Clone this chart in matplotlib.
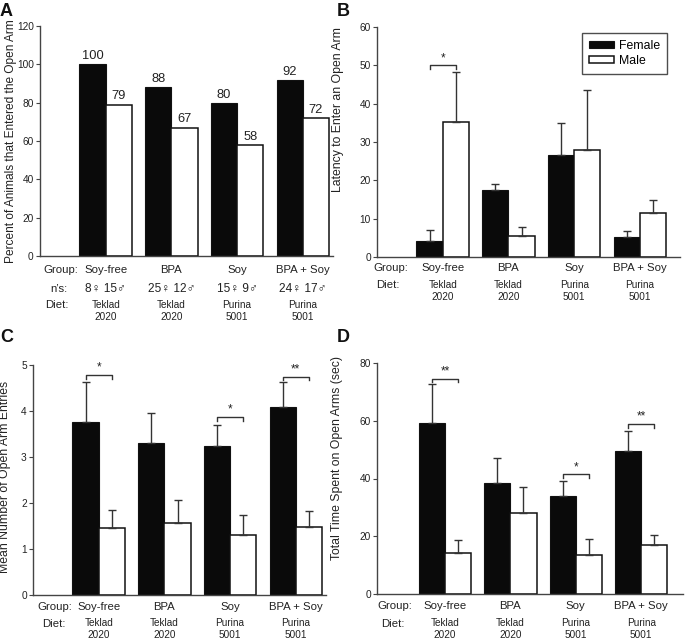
import matplotlib.pyplot as plt
import numpy as np

plt.rcParams['font.family'] = ['Liberation Sans', 'DejaVu Sans']

W, H = 686, 643
INK = '#222222'
AXC = '#444444'

groups = ['Soy-free', 'BPA', 'Soy', 'BPA + Soy']
diets = ['Teklad\n2020', 'Teklad\n2020', 'Purina\n5001', 'Purina\n5001']
n_female = [8, 25, 15, 24]
n_male = [15, 12, 9, 17]

# A — percent of animals that entered the open arm
pct_female = [100, 88, 80, 92]
pct_male = [79, 67, 58, 72]

# B — latency to enter an open arm (mean, SEM)
lat_female = [4.3, 17.6, 26.6, 5.1]
lat_female_se = [2.7, 1.5, 8.4, 1.8]
lat_male = [35.1, 5.5, 27.8, 11.4]
lat_male_se = [13.1, 2.3, 15.7, 3.4]
lat_sig = [(0, 50.0, '*')]

# C — mean number of open arm entries
ent_female = [3.76, 3.31, 3.23, 4.09]
ent_female_se = [0.86, 0.65, 0.47, 0.53]
ent_male = [1.46, 1.57, 1.30, 1.47]
ent_male_se = [0.39, 0.50, 0.45, 0.35]
ent_sig = [(0, 4.78, '*'), (2, 3.87, '*'), (3, 4.75, '**')]

# D — total time spent on open arms (sec)
time_female = [59.2, 38.6, 34.1, 49.6]
time_female_se = [13.5, 8.4, 4.9, 6.9]
time_male = [14.1, 28.0, 13.4, 16.8]
time_male_se = [4.5, 8.9, 5.7, 3.8]
time_sig = [(0, 74.6, '**'), (2, 41.4, '*'), (3, 58.9, '**')]


def px_axes(fig, l, t, r, b):
    return fig.add_axes([l / W, 1 - b / H, (r - l) / W, (b - t) / H])


def base_axes(ax, ymax, ystep, xlim, ylabel, lab_xy, lab_size=8.8):
    ax.set_xlim(*xlim)
    ax.set_ylim(0, ymax)
    ax.set_yticks(np.arange(0, ymax + ystep / 2, ystep))
    for s in ('top', 'right'):
        ax.spines[s].set_visible(False)
    for s in ('left', 'bottom'):
        ax.spines[s].set_color(AXC)
        ax.spines[s].set_linewidth(1.0)
    ax.tick_params(axis='x', length=0, labelbottom=False)
    ax.tick_params(axis='y', length=3, width=0.8, color=AXC, labelsize=7.3,
                   labelcolor=INK, pad=1.5)
    ax.set_ylabel(ylabel, fontsize=lab_size, color=INK)
    ax.yaxis.set_label_coords(*lab_xy)


def bars(ax, fem, mal, fem_se=None, mal_se=None):
    x = np.arange(1, len(fem) + 1)
    ax.bar(x - 0.2, fem, 0.4, color='#0a0a0a', edgecolor='#111111',
           linewidth=0.8, zorder=2, label='Female')
    ax.bar(x + 0.2, mal, 0.4, color='white', edgecolor='#111111',
           linewidth=1.1, zorder=2, label='Male')
    if fem_se is not None:
        for xs, v, e in ((x - 0.2, fem, fem_se), (x + 0.2, mal, mal_se)):
            ax.errorbar(xs, v, yerr=[np.zeros(len(e)), e], fmt='none',
                        ecolor='#333333', elinewidth=1.0, capsize=2.6,
                        capthick=1.0, zorder=3)
    return x


def brackets(ax, sig, tick):
    for i, h, star in sig:
        x0, x1 = i + 1 - 0.2, i + 1 + 0.2
        ax.plot([x0, x0, x1, x1], [h - tick, h, h, h - tick], color='#333333',
                lw=1.0, zorder=3)
        ax.annotate(star, (i + 1, h), xytext=(0, 1), textcoords='offset points',
                    ha='center', va='bottom', fontsize=8.5, color=INK)


def row(ax, text, dx_px, dy_px, size=8.2):
    ax.annotate(text, (0, 0), xycoords='axes fraction',
                xytext=(dx_px * 0.72, -dy_px * 0.72), textcoords='offset points',
                ha='left', va='center', fontsize=size, color=INK,
                annotation_clip=False)


def row_vals(ax, labels, dy_px, size=8.2):
    for i, t in enumerate(labels):
        ax.annotate(t, (i + 1, 0), xycoords=('data', 'axes fraction'),
                    xytext=(0, -dy_px * 0.72), textcoords='offset points',
                    ha='center', va='center', fontsize=size, color=INK,
                    linespacing=1.25, annotation_clip=False)


fig = plt.figure(figsize=(W / 100, H / 100), dpi=100)

# ---- A ----
axA = px_axes(fig, 40, 26, 333, 256)
base_axes(axA, 120, 20, (0, 4.46),
          'Percent of Animals that Entered the Open Arm', (-0.08, 0.50),
          lab_size=8.6)
xA = bars(axA, pct_female, pct_male)
for xs, vals in ((xA - 0.2, pct_female), (xA + 0.2, pct_male)):
    for xi, v in zip(xs, vals):
        axA.annotate(f'{v}', (xi, v), xytext=(0, 1.5), textcoords='offset points',
                     ha='center', va='bottom', fontsize=9.3, color=INK)
row(axA, 'Group:', 3, 14)
row(axA, 'n\u2019s:', 10, 33)
row(axA, 'Diet:', 5, 49)
row_vals(axA, groups, 14)
row_vals(axA, [f'{f}\u2640 {m}\u2642' for f, m in zip(n_female, n_male)], 33,
         size=8.6)
row_vals(axA, diets, 55.5, size=7.2)

# ---- B ----
axB = px_axes(fig, 377, 27, 680, 257)
base_axes(axB, 60, 10, (0, 4.61), 'Latency to Enter an Open Arm',
          (-0.11, 0.643))
bars(axB, lat_female, lat_male, lat_female_se, lat_male_se)
brackets(axB, lat_sig, 1.0)
row(axB, 'Group:', -4, 11)
row(axB, 'Diet:', -1, 28)
row_vals(axB, groups, 11)
row_vals(axB, diets, 33.5, size=7.2)
leg = axB.legend(loc='upper right', bbox_to_anchor=(0.957, 0.974),
                 borderaxespad=0, fontsize=8.8, frameon=True, fancybox=False,
                 edgecolor='#222222', handlelength=2.0, handleheight=0.5,
                 handletextpad=0.4, labelspacing=0.2, borderpad=0.6)
leg.get_frame().set_linewidth(1.0)

# ---- C ----
axC = px_axes(fig, 33, 365, 326, 595)
base_axes(axC, 5, 1, (0, 4.46), 'Mean Number of Open Arm Entries',
          (-0.074, 0.513))
bars(axC, ent_female, ent_male, ent_female_se, ent_male_se)
brackets(axC, ent_sig, 0.08)
row(axC, 'Group:', 4, 12)
row(axC, 'Diet:', 9, 29)
row_vals(axC, groups, 12)
row_vals(axC, diets, 34.5, size=7.2)

# ---- D ----
axD = px_axes(fig, 377, 363, 683, 594)
base_axes(axD, 80, 20, (-0.04, 4.64), 'Total Time Spent on Open Arms (sec)',
          (-0.11, 0.59))
bars(axD, time_female, time_male, time_female_se, time_male_se)
brackets(axD, time_sig, 1.3)
row(axD, 'Group:', 0, 12)
row(axD, 'Diet:', 4, 30)
row_vals(axD, groups, 12)
row_vals(axD, diets, 35.5, size=7.2)

# panel letters
for letter, (px, py) in zip('ABCD', [(6, 12), (343, 12), (7, 337), (343, 338)]):
    fig.text(px / W, 1 - py / H, letter, fontsize=13, fontweight='bold',
             ha='center', va='center', color='#111111')

fig.savefig('out.png', dpi=100)
